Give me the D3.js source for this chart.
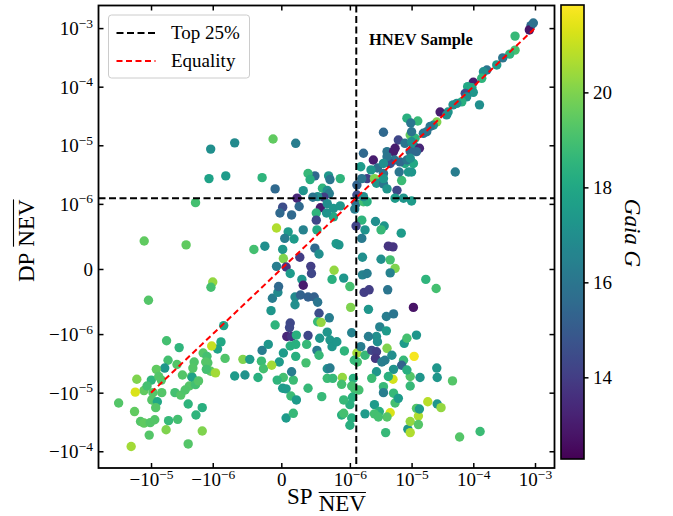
<!DOCTYPE html>
<html>
<head>
<meta charset="utf-8">
<script src="https://cdn.jsdelivr.net/npm/d3@7"></script>
<style>
  body { margin: 0; background: #fff; }
  text { font-family: 'Liberation Serif', 'Times New Roman', serif; fill: #000; }
</style>
</head>
<body>
<script>
// SP NEV vs DP NEV for the HNEV sample, colour = Gaia G magnitude
// rows are [SP, DP, G]

const lowerLeft = [
  [-1.0e-6,-2.0e-7,20.3],[-1.07e-6,-2.8e-7,19],[-1.1e-5,-4.8e-7,19.3],[-8.4e-7,-8.7e-7,17.8],
  [-5.6e-6,-1.3e-6,19],[-3.5e-6,-1.7e-6,18.5],[-8.8e-7,-1.36e-6,18],[-9.3e-7,-1.8e-6,17.8],
  [-1.04e-6,-1.6e-6,21],[-2.8e-7,-1.9e-6,16.3],[-1.9e-7,-1.5e-6,17.3],[-5.3e-6,-2.8e-6,19],
  [-6.0e-6,-3.8e-6,17.3],[-3.8e-6,-3.3e-6,19.3],[-2.0e-6,-3.0e-6,19.2],[-1.43e-6,-2.1e-6,19.3],
  [-1.24e-6,-2.4e-6,19],[-1.2e-6,-3.1e-6,19.2],[-1.08e-6,-4.3e-6,19.5],[-9.6e-7,-4.6e-6,20.5],
  [-8.2e-7,-2.6e-6,19.2],[-5.6e-7,-2.7e-6,20],[-4.6e-7,-2.7e-6,17.5],[-2.9e-7,-2.9e-6,18.8],
  [-6.8e-7,-5.2e-6,17.5],[-5.3e-7,-5.0e-6,17.2],[-3.4e-7,-5.5e-6,18.3],[-2.6e-7,-3.9e-6,19],
  [-2.1e-6,-3.8e-6,19.3],[-2.2e-6,-5.3e-6,19.2],[-2.15e-6,-5.5e-6,17.8],[-3.1e-6,-5.0e-6,19.3],
  [-2.4e-6,-7.7e-6,19.3],[-1.9e-6,-7.3e-6,19],[-1.7e-6,-6.3e-6,19.3],[-1.3e-6,-3.0e-6,19.3],
  [-1.27e-6,-4.0e-6,19],[-1.7e-5,-5.9e-6,20],[-9.9e-6,-6.1e-6,18.5],[-8.2e-6,-4.0e-6,19.5],
  [-7.5e-6,-5.3e-6,19.3],[-6.8e-6,-6.1e-6,19.3],[-1.3e-5,-9.2e-6,19.5],[-1.8e-5,-9.8e-6,21.3],
  [-1.16e-5,-7.7e-6,19],[-9.3e-6,-1.0e-5,19.3],[-9.7e-6,-1.33e-5,19.3],[-7.9e-6,-1.43e-5,18],
  [-8.4e-6,-1.8e-5,19.3],[-6.7e-6,-1.0e-5,19.3],[-4.1e-6,-1.0e-5,19],[-3.3e-6,-1.1e-5,19.3],
  [-2.8e-6,-9.0e-6,19.2],[-2.5e-6,-1.56e-5,18.5],[-1.48e-6,-1.8e-5,18.3],[-1.87e-6,-2.4e-5,18.5],
  [-3.35e-5,-1.5e-5,19.3],[-1.85e-5,-2.1e-5,19.5],[-1.48e-5,-3.1e-5,19.3],[-1.3e-5,-3.3e-5,19.5],
  [-1.03e-5,-3.25e-5,19.3],[-8.7e-6,-2.9e-5,19.3],[-5.2e-6,-3.0e-5,18.7],[-3.7e-6,-2.85e-5,19],
  [-5.7e-6,-4.3e-5,20],[-1.07e-5,-5.3e-5,19.3],[-1.48e-6,-4.5e-5,20],[-2.5e-6,-7.5e-5,19.3],
  [-2.1e-5,-8.3e-5,20.5]
];

const centerLower = [
  [-1.3e-7,-4.5e-7,16.3],[-5e-8,-3.6e-7,16.8],[2.0e-7,-4.3e-7,16.8],[2.8e-7,-4.0e-7,15.3],
  [3.9e-7,-4.3e-7,15.2],[4.8e-7,-4.3e-7,15.2],[5.3e-7,-5.1e-7,16],[2.0e-7,-5.5e-7,17],
  [-1.5e-7,-6.4e-7,17.3],[5.5e-7,-6.8e-7,14.5],[7.0e-7,-7.5e-7,16.3],[5.3e-7,-8.1e-7,18.7],
  [5.8e-7,-8.2e-7,20.3],[1.03e-6,-5.9e-7,20],[2.0e-6,-6.2e-7,17.3],[1.7e-6,-3.6e-7,14],
  [2.05e-6,-3.2e-7,14],[4.1e-6,-3.2e-7,16],[1.07e-5,-5.9e-7,12.8],[3.9e-6,-7.3e-7,16.3],
  [5.1e-6,-6.9e-7,16],[3.05e-6,-8.9e-7,16.5],[3.9e-6,-9.5e-7,17.5],[2.7e-6,-1.1e-6,17],
  [2.0e-6,-1.1e-6,16.3],[2.8e-6,-1.35e-6,17],[-9e-8,-8.6e-7,18.5],[1.3e-7,-8.3e-7,14.3],
  [1.2e-7,-9.0e-7,14.3],[8e-8,-1.1e-6,13.3],[1.5e-7,-1.1e-6,13.7],[3.9e-7,-1.06e-6,14.3],
  [2.2e-7,-1.04e-6,18.3],[5.6e-7,-1.18e-6,17.3],[6.7e-7,-9.7e-7,17.3],[7.1e-7,-1.26e-6,17.3],
  [1.07e-6,-9.8e-7,16.5],[3e-8,-2.1e-6,17.5],[1.3e-7,-1.6e-6,18.3],[2.1e-7,-1.5e-6,18.3],
  [2.1e-7,-2.4e-6,18.3],[3.7e-7,-1.5e-6,18.7],[5.2e-7,-1.9e-6,16.2],[5.5e-7,-2.3e-6,18.7],
  [7.4e-7,-1.64e-6,17.3],[8.1e-7,-1.35e-6,17.3],[9.2e-7,-1.94e-6,18.5],[1.3e-6,-2.1e-6,20.5],
  [1.76e-6,-2.3e-6,18.7],[2.26e-6,-1.9e-6,14.3],[2.7e-6,-2.0e-6,14],[2.6e-6,-2.6e-6,13.8],
  [4.0e-6,-1.75e-6,20],[3.7e-6,-2.8e-6,16.3],[4.8e-6,-2.3e-6,17],[7.6e-6,-1.44e-6,17.5],
  [8.4e-6,-1.18e-6,19],[1.2e-5,-1.04e-6,17.3],[1.1e-5,-2.4e-6,21.7],[7.4e-6,-2.8e-6,18.7],
  [6.9e-6,-3.4e-6,15.3],[5.1e-6,-4.0e-6,17.2],[5.0e-6,-5.9e-6,21.2],[4.2e-6,-5.3e-6,18.3],
  [2.7e-6,-4.4e-6,17.3],[2.26e-6,-5.7e-6,18.8],[3.5e-6,-7.9e-6,18.7],[3.5e-6,-1.0e-5,16.3],
  [5.1e-6,-1.02e-5,18.7],[5.4e-6,-1.5e-5,19],[6.1e-6,-1.25e-5,17.5],[2.5e-6,-1.6e-5,17.5],
  [3.0e-6,-2.1e-5,18.3],[4.5e-6,-2.2e-5,21.3],[4.0e-6,-2.6e-5,19.3],[1.76e-6,-2.3e-5,17.5],
  [3.8e-6,-4.8e-5,18.7],[8.7e-6,-4.2e-5,17.3],[9.5e-6,-4.8e-5,20.7],[9.5e-6,-3.1e-5,20.3],
  [1.2e-5,-1.85e-5,19.3],[1.29e-5,-2.5e-5,20.7],[1.29e-5,-3.5e-5,19.3],[1.32e-6,-3.0e-6,19],
  [1.18e-6,-2.8e-6,18.7],[1.14e-6,-5.7e-6,18.3],[1.07e-6,-7.7e-6,19],[1.2e-6,-8.7e-6,19],
  [1.4e-6,-9.0e-6,19],[1.1e-6,-1.2e-5,18.3],[1.0e-6,-1.6e-5,18.3],[1.07e-6,-2.7e-5,18.3],
  [1.0e-6,-3.6e-5,18.3],[8.8e-7,-2.4e-5,18.3],[9.1e-7,-1.33e-5,18.7],[8.9e-7,-5.5e-6,20.3],
  [8.8e-7,-7.2e-6,19],[6.7e-7,-3.9e-6,17],[6.7e-7,-5.7e-6,18.8],[5.9e-7,-1.17e-5,18.7],
  [3.9e-7,-8.4e-6,18.7],[3.6e-7,-3.1e-6,19],[1.75e-7,-6.1e-6,18.8],[1.5e-7,-4.4e-6,16.3],
  [3e-8,-5.5e-6,19],[-6e-8,-6.1e-6,18.5],[2e-8,-8.4e-6,17.5],[7e-8,-8.6e-6,17.5],
  [1.4e-7,-1.14e-5,18.8],[2.2e-7,-1.33e-5,17.5],[-3e-8,-3.0e-6,17.5],[-1.4e-7,-3.4e-6,20.5],
  [7e-8,-2.7e-5,17.5],[1.75e-7,-2.25e-5,18.7],[7.5e-7,-5.7e-6,18.7],[7.1e-7,-3.8e-6,16.3],
  [9.1e-7,-2.25e-5,19],[2.5e-6,-2.3e-5,19],[2.9e-6,-2.6e-5,19],[1.5e-6,-1.64e-6,16.3],
  [3.3e-6,-3.0e-6,16.3]
];

const lowerRight = [
  [2.56e-5,-3.8e-6,17.3],[2.6e-5,-5.5e-6,17.3],[4.6e-5,-6.3e-6,19.3],[1.37e-5,-5.5e-6,17.3],
  [9.5e-6,-5.3e-6,19.3],[9.5e-6,-7.7e-6,18.7],[8.4e-6,-4.1e-6,18.3],[1.83e-5,-1.43e-5,20.8],
  [2.6e-5,-1.56e-5,17.3],[3.0e-5,-1.8e-5,20.3],[1.34e-5,-1.9e-5,17.5],[6.0e-5,-5.7e-5,19.3],
  [1.29e-4,-4.6e-5,18.8],[1.7e-5,-1.6e-7,18.5],[2.5e-5,-3.0e-7,19],
  [1.6e-6,1.8e-7,17],[3.2e-6,1.5e-7,17],[4.5e-6,1.4e-7,19],[5.4e-6,1e-8,20],
  [4.5e-6,-6e-8,16.5],[1.6e-6,-9e-8,16.5],[1.9e-6,-7e-8,16.3]
];

const centerUpper = [
  [-1.2e-7,1.28e-5,19.5],[2.1e-7,1.08e-5,16.3],[-1.29e-5,4.3e-7,19.5],[-2.7e-6,3.7e-7,19.5],
  [-1.9e-6,1.05e-6,19],[-1.15e-6,2.7e-6,17.8],[-1.08e-6,8.6e-6,17],[-8.1e-7,3.0e-6,17.5],
  [-6.8e-7,1.1e-5,16.8],[-2.8e-7,2.8e-6,18.5],[-9e-8,1.8e-6,15.5],[3.5e-6,1.67e-5,15.5],
  [1.66e-6,7.3e-6,15.5],[2.4e-6,5.6e-6,13],[2.8e-6,4.1e-6,15.8],[1.9e-6,2.7e-6,14],
  [2.5e-6,2.7e-6,20],[2.7e-6,2.25e-6,17.3],[3.5e-6,2.2e-6,16],[4.0e-6,1.8e-6,17.3],
  [5.8e-6,1.7e-6,14.3],[6.9e-6,2.5e-6,18.8],[4.0e-6,7.8e-6,16],[5.1e-6,7.8e-6,13],
  [5.3e-6,5.6e-6,16],[6.3e-6,3.5e-6,16],[1.0e-5,3.5e-6,17.3],[7.8e-6,4.9e-6,18],
  [1.07e-5,4.9e-6,18],[3.5e-6,3.3e-6,16],[4.5e-6,4.9e-6,14.5],[1.5e-6,4.3e-6,17.5],
  [2.2e-6,3.8e-6,17.3],[1.3e-6,2.1e-6,15.3],[1.3e-6,1.42e-6,14.5],[1.26e-6,1.01e-6,15.8],
  [1.66e-6,1.09e-6,19],[1.9e-6,1.09e-6,18.3],[1.2e-6,9.2e-7,16.3],[1.56e-6,7.5e-7,18.5],
  [1.26e-6,6.6e-7,14.2],[1.76e-6,6.0e-7,17.2],[1.56e-6,4.7e-7,16.2],[2.6e-6,7.3e-7,17],
  [3.6e-6,6.6e-7,17.3],[3.2e-6,6.0e-7,18.7],[6.8e-6,5.5e-7,17.5],[5.4e-6,1.25e-6,17.5],
  [1.0e-5,1.12e-6,17.5],[4.2e-6,3.5e-7,13.7],[5.0e-6,3.4e-7,13.7],[8.6e-7,2.7e-6,18.5],
  [6.9e-7,3.0e-6,17.3],[7.1e-7,2.6e-6,16],[4.9e-7,3.0e-6,15.5],[3.9e-7,3.3e-6,18.7],
  [4.2e-7,2.6e-6,18.3],[6.0e-7,1.85e-6,18.5],[6.7e-7,1.7e-6,17],[7.0e-7,1.5e-6,16.3],
  [6.2e-7,1.3e-6,14],[5.3e-7,1.33e-6,17],[4.6e-7,1.3e-6,16],[3.2e-7,1.68e-6,17.2],
  [2.3e-7,1.25e-6,13.3],[2.6e-7,9.6e-7,15.5],[5.7e-7,9.4e-7,13],[5.1e-7,8.6e-7,18.5],
  [6.7e-7,1.01e-6,17],[7.6e-7,9.3e-7,17.3],[8.6e-7,9.7e-7,17.3],[7.6e-7,8.0e-7,18],
  [5.1e-7,7.5e-7,14.3],[6.6e-7,8.6e-7,17.2],[2e-8,9.5e-7,14.5],[-2e-8,8.6e-7,15.5],
  [1.5e-7,8.3e-7,15.5],[3.2e-7,6.0e-7,16.5],[5.2e-7,6.0e-7,18],[1.0e-7,5.7e-7,17.5],
  [5e-8,4.7e-7,16.3],[-7e-8,6.3e-7,20.7],[1.85e-7,4.6e-7,17.5],[-2.4e-7,3.5e-7,17],
  [-4.0e-7,3.0e-7,19],[2e-8,3.0e-7,17.3],[3e-8,1.6e-7,20],[-7e-8,4e-8,16.3],
  [7e-8,3e-8,13.7],[1.3e-7,-7e-8,17.5],[4.9e-7,3.2e-7,15.5],[5.5e-7,2.3e-7,17],
  [2.7e-7,1.8e-7,14],[4.3e-7,4e-8,14],[4.4e-7,-7e-8,14.3],[7.7e-7,-2e-8,20.3],
  [8.0e-7,3.9e-7,17.5],[8.4e-7,3.7e-7,17.3],[9.1e-7,-1.4e-7,17.3],[1.0e-6,-2.7e-7,19],
  [7.4e-7,-1.6e-7,18.3],[-4e-8,-2.7e-7,15.5],[3.0e-7,-1.6e-7,17.3],[3.2e-7,-2.5e-7,13]
];

const diagonal = [
  [8.6e-4,1.1e-3,15.5],[8.1e-4,9.3e-4,12.8],[9.4e-4,1.22e-3,15.8],[4.75e-4,7.3e-4,18.7],
  [4.75e-4,4.2e-4,19],[3.9e-4,3.6e-4,18.5],[3.0e-4,3.1e-4,16],[2.4e-4,2.35e-4,17.5],
  [1.66e-4,1.93e-4,16],[1.46e-4,1.8e-4,17],[1.37e-4,1.39e-4,18.5],[1.0e-4,1.19e-4,13],
  [8.1e-5,1.0e-4,18],[9.5e-5,9.6e-5,18],[1.0e-4,8.0e-5,17.3],[7.4e-5,7.7e-5,14.5],
  [7.8e-5,6.7e-5,17],[6.5e-5,5.5e-5,18.3],[5.4e-5,5.2e-5,17],[4.7e-5,4.9e-5,17],
  [3.9e-5,3.7e-5,17.3],[1.26e-4,4.9e-5,17],[2.9e-5,3.7e-5,13],[3.7e-5,3.3e-5,17],
  [2.56e-5,2.5e-5,20],[2.25e-5,2.2e-5,17],[2.0e-5,2.1e-5,16],[1.76e-5,1.7e-5,16],
  [1.55e-5,1.6e-5,16],[1.26e-5,2.6e-5,18.7],[8.4e-6,2.9e-5,18.3],[9.7e-6,2.4e-5,16],
  [9.5e-6,1.5e-5,19.5],[1.14e-5,1.32e-5,18.5],[1.0e-5,1.7e-5,16],[6.1e-6,1.23e-5,14.3],
  [7.8e-6,1.08e-5,16],[1.0e-5,1.15e-5,17],[1.07e-5,1.01e-5,17],[1.34e-5,8.9e-6,13.3],
  [9.5e-6,7.8e-6,15.5],[1.2e-5,7.8e-6,15.5],[5.4e-6,8.9e-6,13],[4.0e-6,6.4e-6,16],
  [6.5e-6,5.2e-6,15.5],[8.4e-6,5.6e-6,16],[9.5e-6,6.0e-6,17],[3.5e-6,4.9e-6,17],
  [8.9e-6,3.5e-6,17.3],[5.1e-5,3.5e-6,16.3],[1.56e-6,2.7e-6,16],[3.5e-6,2.7e-6,17.3],
  [7.4e-6,1.25e-6,17.3],[1.66e-6,1.33e-6,17]
];

const sample = [].concat(lowerLeft, centerLower, lowerRight, centerUpper, diagonal);

const xTicks = [-1e-5, -1e-6, 0, 1e-6, 1e-5, 1e-4, 1e-3];
const yTicks = [-1e-4, -1e-5, -1e-6, 0, 1e-6, 1e-5, 1e-4, 1e-3];
const xLim = [-7.1e-5, 2.07e-3];
const yLim = [-1.93e-4, 2.43e-3];
const topSP = 1.27e-6;   // top 25% cut on SP
const topDP = 1.245e-6;  // top 25% cut on DP
const equality = [-1e-5, 1e-3];
const gLim = [12.28, 21.84];
const gTicks = [14, 16, 18, 20];

const width = 673, height = 516;
const plotL = 98.5, plotR = 554.5, plotT = 5.5, plotB = 468;

// matplotlib style symlog, base 10, linthresh 1e-6, linscale 1
const linthresh = 1e-6;
const linscale = 1 / (1 - 1 / 10);
function symlog(v) {
  let a = Math.abs(v);
  if (a <= linthresh) return v / linthresh * linscale;
  return Math.sign(v) * (linscale + Math.log10(a / linthresh));
}

let x = d3.scaleLinear().domain(xLim.map(symlog)).range([plotL, plotR]);
let y = d3.scaleLinear().domain(yLim.map(symlog)).range([plotB, plotT]);
let sx = v => x(symlog(v));
let sy = v => y(symlog(v));
let color = d3.scaleSequential(d3.interpolateViridis).domain(gLim);

let svg = d3.select('body').append('svg').attr('width', width).attr('height', height);

svg.append('clipPath').attr('id', 'plotclip')
  .append('rect').attr('x', plotL).attr('y', plotT).attr('width', plotR - plotL).attr('height', plotB - plotT);

let plot = svg.append('g').attr('clip-path', 'url(#plotclip)');

plot.append('g')
  .selectAll('circle')
  .data(sample)
  .enter().append('circle')
  .attr('cx', d => sx(d[0]))
  .attr('cy', d => sy(d[1]))
  .attr('r', 4.7)
  .attr('fill', d => color(d[2]));

// top 25% cuts
plot.append('line')
  .attr('x1', sx(topSP)).attr('x2', sx(topSP))
  .attr('y1', plotT).attr('y2', plotB)
  .attr('stroke', '#000').attr('stroke-width', 2).attr('stroke-dasharray', '7,3.5');
plot.append('line')
  .attr('x1', plotL).attr('x2', plotR)
  .attr('y1', sy(topDP)).attr('y2', sy(topDP))
  .attr('stroke', '#000').attr('stroke-width', 2).attr('stroke-dasharray', '7,3.5');

// equality line
plot.append('path')
  .datum(equality)
  .attr('d', d3.line().x(d => sx(d)).y(d => sy(d)))
  .attr('fill', 'none')
  .attr('stroke', '#ff0000').attr('stroke-width', 2).attr('stroke-dasharray', '6,3.5');

// tick label with superscript exponent
function tickLabel(sel, v) {
  sel.text(null);
  if (v === 0) { sel.append('tspan').text('0'); return; }
  let e = Math.round(Math.log10(Math.abs(v)));
  sel.append('tspan').text((v < 0 ? '\u2212' : '') + '10');
  sel.append('tspan').attr('font-size', 13.5).attr('dy', -7.5)
    .text((e < 0 ? '\u2212' : '') + Math.abs(e));
}

function styleAxis(g) {
  g.attr('font-family', null).attr('font-size', null);
  g.select('.domain').remove();
  g.selectAll('.tick line').attr('stroke', '#000').attr('stroke-width', 1.5);
}

let gx = svg.append('g').attr('transform', `translate(0,${plotB})`)
  .call(d3.axisBottom(x).tickValues(xTicks.map(symlog)).tickSizeInner(-5).tickSizeOuter(0).tickFormat(''));
styleAxis(gx);
gx.selectAll('.tick text')
  .attr('y', 18).attr('dy', 0).attr('font-size', 19).attr('text-anchor', 'middle')
  .each(function(d, i) { tickLabel(d3.select(this), xTicks[i]); });

let gxTop = svg.append('g').attr('transform', `translate(0,${plotT})`)
  .call(d3.axisTop(x).tickValues(xTicks.map(symlog)).tickSizeInner(-5).tickSizeOuter(0).tickFormat(''));
styleAxis(gxTop);
gxTop.selectAll('.tick text').remove();

let gy = svg.append('g').attr('transform', `translate(${plotL},0)`)
  .call(d3.axisLeft(y).tickValues(yTicks.map(symlog)).tickSizeInner(-5).tickSizeOuter(0).tickFormat(''));
styleAxis(gy);
gy.selectAll('.tick text')
  .attr('x', -5.5).attr('dy', 6.5).attr('font-size', 19).attr('text-anchor', 'end')
  .each(function(d, i) { tickLabel(d3.select(this), yTicks[i]); });

let gyRight = svg.append('g').attr('transform', `translate(${plotR},0)`)
  .call(d3.axisRight(y).tickValues(yTicks.map(symlog)).tickSizeInner(-5).tickSizeOuter(0).tickFormat(''));
styleAxis(gyRight);
gyRight.selectAll('.tick text').remove();

// frame
svg.append('rect')
  .attr('x', plotL).attr('y', plotT)
  .attr('width', plotR - plotL).attr('height', plotB - plotT)
  .attr('fill', 'none').attr('stroke', '#000').attr('stroke-width', 1.8);

// axis labels with overline
function overLabel(g, first, second, shift, gap) {
  let t1 = g.append('text').attr('font-size', 23).text(first);
  let w1 = t1.node().getComputedTextLength();
  let t2 = g.append('text').attr('font-size', 23).attr('x', w1 + 6).attr('y', shift).text(second);
  let w2 = t2.node().getComputedTextLength();
  g.append('line')
    .attr('x1', w1 + 6).attr('x2', w1 + 6 + w2)
    .attr('y1', shift - 15.5 - gap).attr('y2', shift - 15.5 - gap)
    .attr('stroke', '#000').attr('stroke-width', 1.1);
  return w1 + 6 + w2;
}

let xLabel = svg.append('g');
let xw = overLabel(xLabel, 'SP', 'NEV', 7.5, 3);
xLabel.attr('transform', `translate(${(plotL + plotR) / 2 - xw / 2},503.5)`);

let yLabel = svg.append('g');
let yw = overLabel(yLabel, 'DP', 'NEV', 0, 4.5);
yLabel.attr('transform', `translate(33.5,${(plotT + plotB) / 2 + yw / 2 + 4}) rotate(-90)`);

// sample tag
svg.append('text')
  .attr('x', 369).attr('y', 45)
  .attr('font-size', 16.5).attr('font-weight', 'bold')
  .text('HNEV Sample');

// legend
let legendItems = ['Top 25%', 'Equality'];
let legendColors = ['#000', '#ff0000'];
let legend = svg.append('g').attr('transform', 'translate(108.5,15)');
legend.append('rect')
  .attr('width', 141).attr('height', 63).attr('rx', 3)
  .attr('fill', '#fff').attr('fill-opacity', 0.8)
  .attr('stroke', '#cccccc').attr('stroke-width', 1);
let li = legend.selectAll('g.item')
  .data(legendItems)
  .enter().append('g')
  .attr('transform', (d, i) => `translate(0,${18 + i * 28})`);
li.append('line')
  .attr('x1', 8).attr('x2', 47)
  .attr('stroke', (d, i) => legendColors[i])
  .attr('stroke-width', 2)
  .attr('stroke-dasharray', (d, i) => i === 0 ? '7,3.5' : '6,3.5');
li.append('text')
  .attr('x', 62.5).attr('y', 6)
  .attr('font-size', 19)
  .text(d => d);

// colorbar
let cbL = 561, cbW = 23, cbT = 5, cbB = 459;
let cy = d3.scaleLinear().domain(gLim).range([cbB, cbT]);
let grad = svg.append('defs').append('linearGradient')
  .attr('id', 'viridis').attr('x1', 0).attr('x2', 0).attr('y1', 1).attr('y2', 0);
grad.selectAll('stop')
  .data(d3.range(0, 1.0001, 0.02))
  .enter().append('stop')
  .attr('offset', d => d)
  .attr('stop-color', d => color(gLim[0] + d * (gLim[1] - gLim[0])));
svg.append('rect')
  .attr('x', cbL).attr('y', cbT).attr('width', cbW).attr('height', cbB - cbT)
  .attr('fill', 'url(#viridis)')
  .attr('stroke', '#000').attr('stroke-width', 1.6);

let gc = svg.append('g').attr('transform', `translate(${cbL + cbW},0)`)
  .call(d3.axisRight(cy).tickValues(gTicks).tickSizeInner(4.5).tickSizeOuter(0).tickPadding(4.5));
styleAxis(gc);
gc.selectAll('.tick text').attr('font-size', 19).attr('dy', '0.34em').attr('fill', '#000');

svg.append('text')
  .attr('transform', 'translate(625,233) rotate(90)')
  .attr('text-anchor', 'middle')
  .attr('font-size', 23).attr('font-style', 'italic')
  .text('Gaia G');
</script>
</body>
</html>
